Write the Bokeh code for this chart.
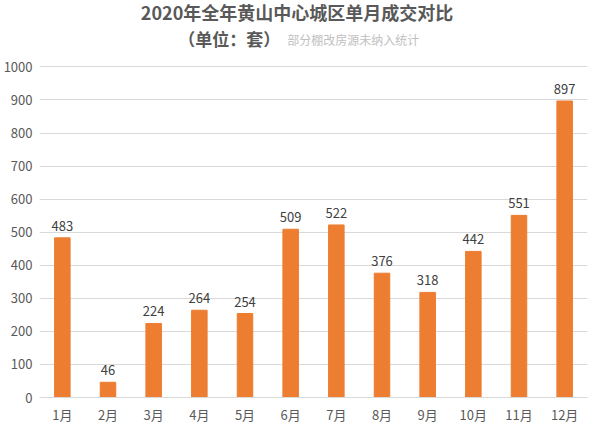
from bokeh.plotting import figure
from bokeh.models import ColumnDataSource, LabelSet, Label, Range1d, FactorRange
from bokeh.core.properties import value
from bokeh.embed import file_html
from bokeh.resources import INLINE

months = ["1月", "2月", "3月", "4月", "5月", "6月", "7月", "8月", "9月", "10月", "11月", "12月"]
values = [483, 46, 224, 264, 254, 509, 522, 376, 318, 442, 551, 897]
y_ticks = [0, 100, 200, 300, 400, 500, 600, 700, 800, 900, 1000]
title_text = "2020年全年黄山中心城区单月成交对比"
unit_text = "（单位：套）"
note_text = "部分棚改房源未纳入统计"

FONT = "Noto Sans CJK SC"

src = ColumnDataSource(dict(m=months, v=values, t=[str(v) for v in values]))

# frame: 400px tall for 0..1201 so that 1000 sits 333px above 0
p = figure(width=595, height=426, x_range=FactorRange(*months), y_range=Range1d(0, 1201),
           output_backend="svg", toolbar_location=None,
           min_border_left=39, min_border_right=8, min_border_top=0, min_border_bottom=26)
p.outline_line_color = None
p.background_fill_color = "white"
p.border_fill_color = "white"

p.vbar(x="m", top="v", width=0.34, source=src, color="#ED7D31")

labels = LabelSet(x="m", y="v", text="t", source=src, text_align="center", text_baseline="bottom",
                  y_offset=7, text_font=value(FONT), text_font_size="13px", text_color="#404040")
p.add_layout(labels)

for ax in (p.xaxis, p.yaxis):
    ax.major_tick_line_color = None
    ax.minor_tick_line_color = None
    ax.major_tick_out = 0
    ax.major_tick_in = 0
    ax.minor_tick_out = 0
    ax.minor_tick_in = 0
    ax.major_label_text_font = FONT
    ax.major_label_text_font_size = "13px"
    ax.major_label_text_color = "#595959"
    ax.major_label_standoff = 7

p.yaxis.ticker = y_ticks
p.yaxis.axis_line_color = None
p.xaxis.axis_line_color = "#d9d9d9"

p.xgrid.grid_line_color = None
p.ygrid.grid_line_color = "#d9d9d9"

p.add_layout(Label(x=5.64, y=1165, text=title_text, text_align="center", text_baseline="middle",
                   text_font=FONT, text_font_size="18px", text_font_style="bold", text_color="#595959"))
p.add_layout(Label(x=5.27, y=1085, text=unit_text, text_align="right", text_baseline="middle",
                   text_font=FONT, text_font_size="17px", text_font_style="bold", text_color="#595959"))
p.add_layout(Label(x=5.425, y=1083, text=note_text, text_align="left", text_baseline="middle",
                   text_font=FONT, text_font_size="12px", text_color="#bfbfbf"))

open("out.html", "w").write(file_html(p, INLINE))
